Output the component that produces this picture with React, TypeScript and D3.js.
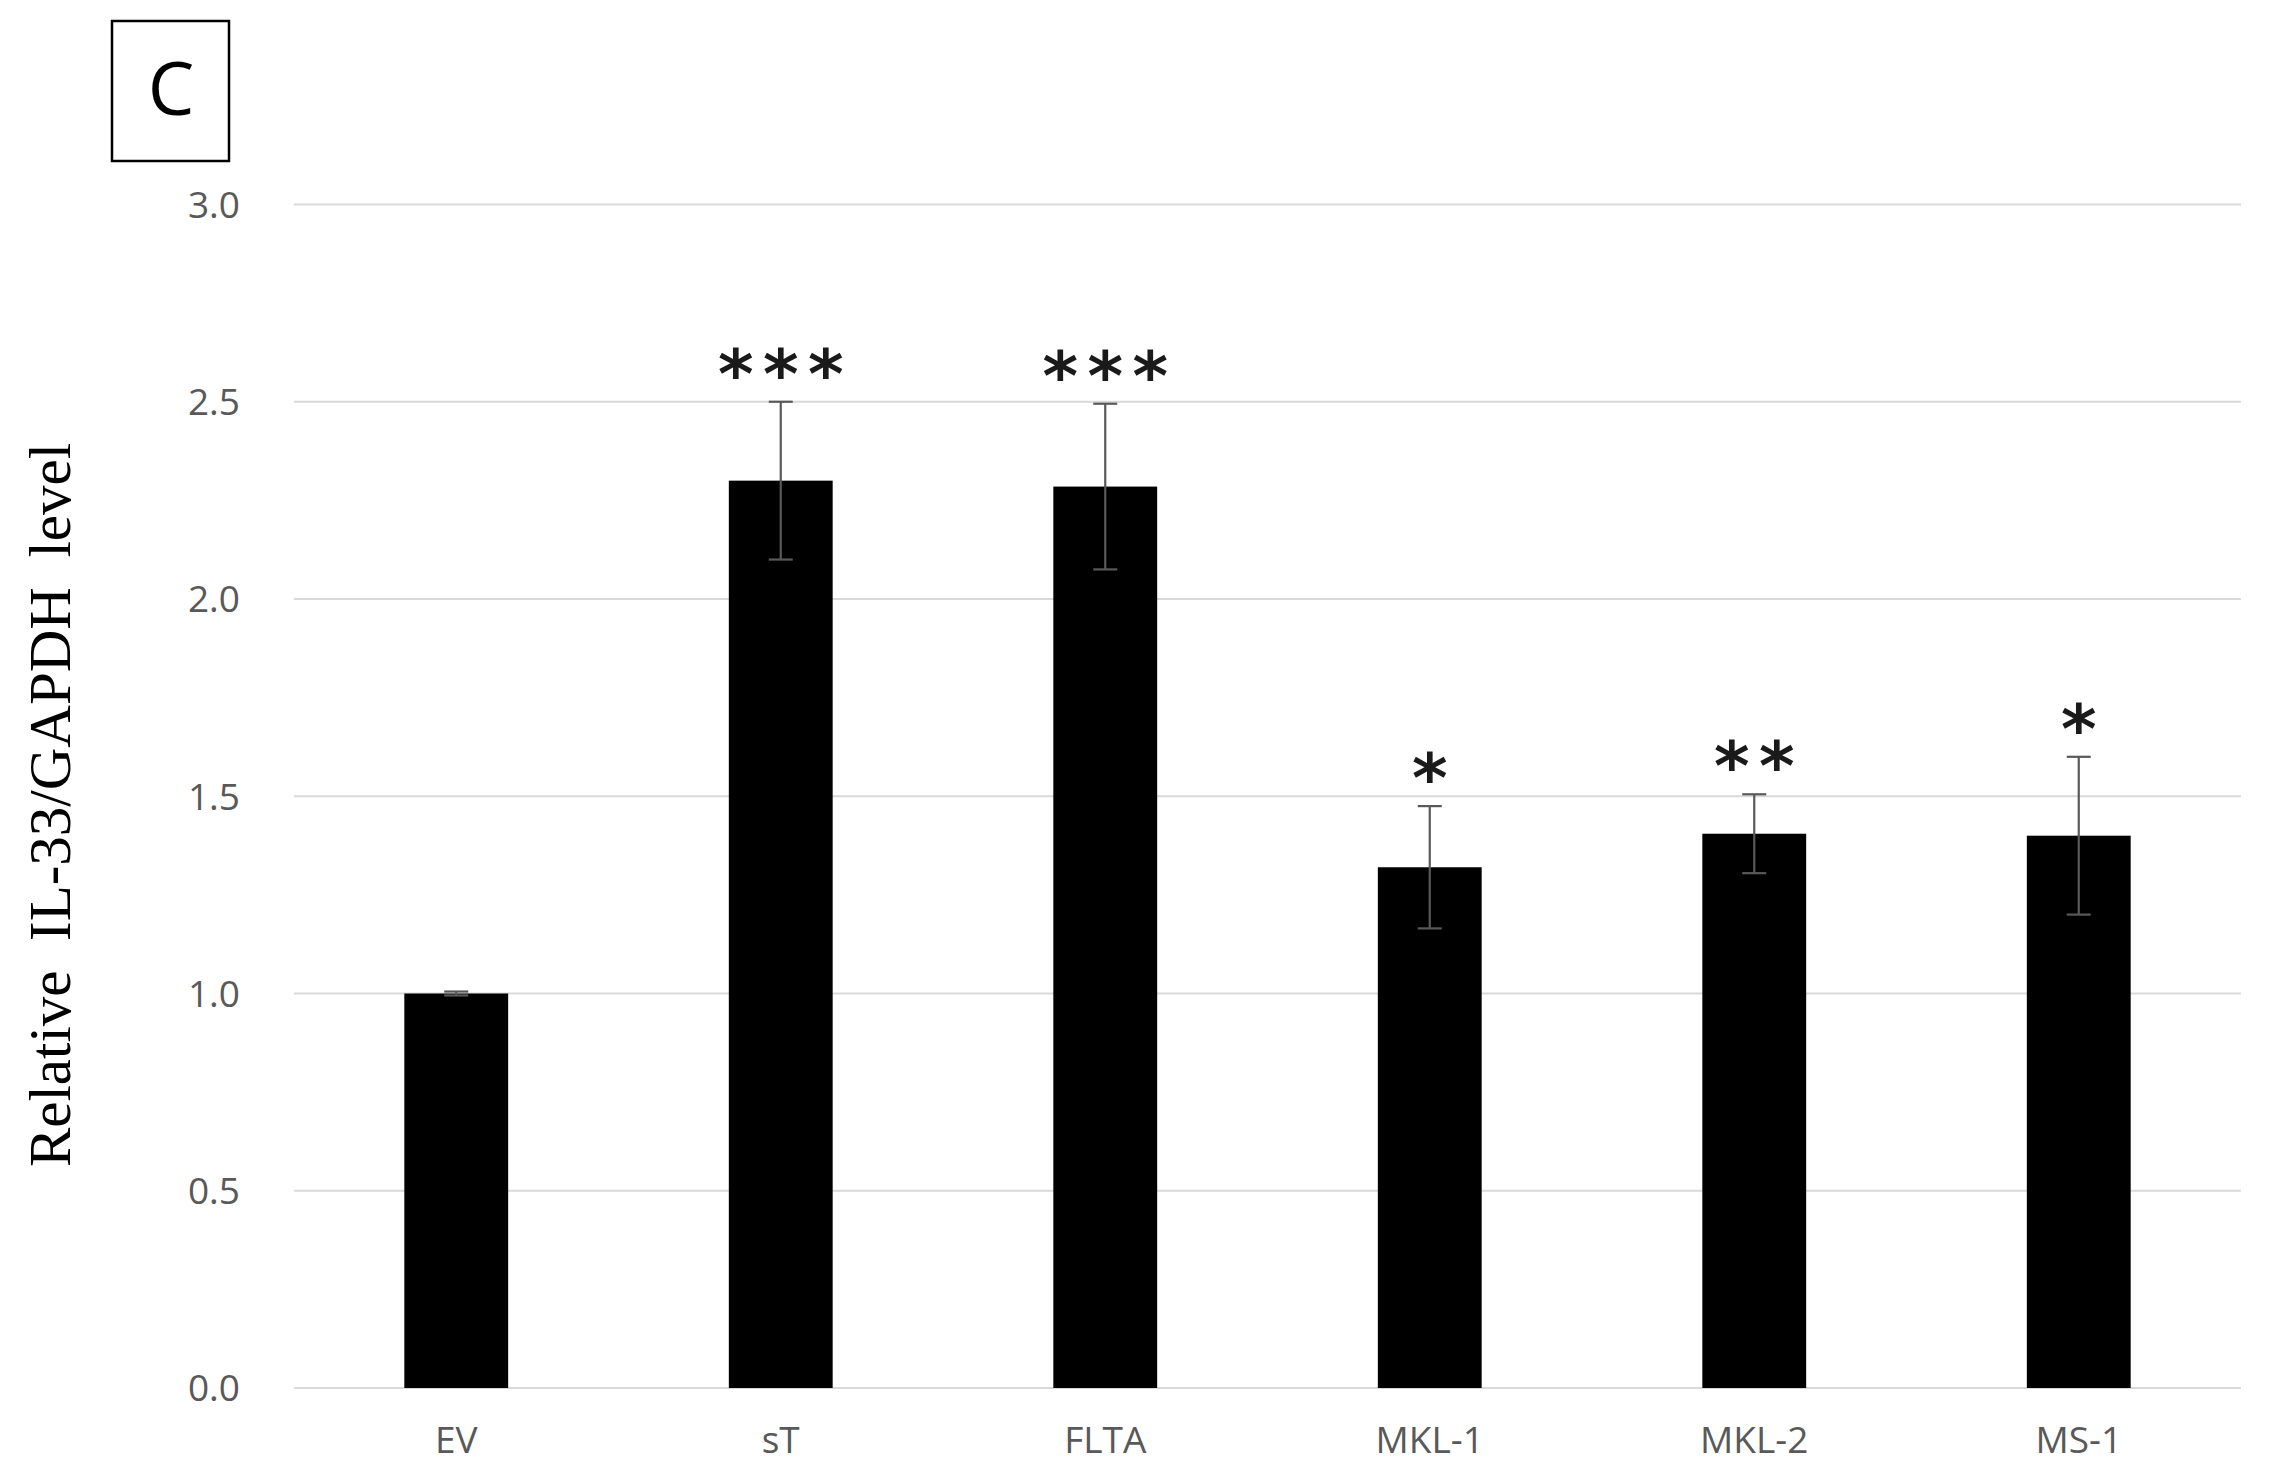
import React from "react";
import * as d3 from "d3";

const categories = ["EV", "sT", "FLTA", "MKL-1", "MKL-2", "MS-1"];
const values = [1.0, 2.30, 2.285, 1.32, 1.405, 1.40];
const errors = [0.005, 0.20, 0.21, 0.155, 0.10, 0.20];
const significance = ["", "***", "***", "*", "**", "*"];
const yTicks = [0, 0.5, 1.0, 1.5, 2.0, 2.5, 3.0];
const yTitle = "Relative  IL-33/GAPDH  level";
const panelLabel = "C";

const W = 2274;
const H = 1482;

export default function App() {
  const x = d3
    .scaleBand<string>()
    .domain(categories)
    .range([294, 2241])
    .paddingInner(0.68)
    .paddingOuter(0.34);
  const y = d3.scaleLinear().domain([0, 3]).range([1388, 204.5]);
  const fmt = d3.format(".1f");
  const bw = x.bandwidth();
  const capW = 24;
  const starFs = 68;
  const starGap = 45;

  return (
    <svg
      width={W}
      height={H}
      viewBox={`0 0 ${W} ${H}`}
      style={{ position: "absolute", left: 0, top: 0, background: "#fff" }}
    >
      <rect x={0} y={0} width={W} height={H} fill="#fff" />
      {/* panel label */}
      <rect x={112} y={21} width={117} height={140} fill="none" stroke="#000" strokeWidth={2.5} />
      <text
        x={171}
        y={115}
        textAnchor="middle"
        fontFamily="'Open Sans', 'Noto Sans', sans-serif"
        fontSize={74}
        fill="#000"
      >
        {panelLabel}
      </text>

      {/* gridlines */}
      {yTicks.map((t) => (
        <line
          key={"g" + t}
          x1={294}
          x2={2241}
          y1={y(t)}
          y2={y(t)}
          stroke="#d9d9d9"
          strokeWidth={2}
        />
      ))}
      {/* y tick labels */}
      {yTicks.map((t) => (
        <text
          key={"t" + t}
          x={240}
          y={y(t)}
          dy="0.36em"
          textAnchor="end"
          fontFamily="'Open Sans', 'Noto Sans', sans-serif"
          fontSize={37}
          fill="#595959"
        >
          {fmt(t)}
        </text>
      ))}

      {/* y title */}
      <text
        transform={`translate(70, 805) rotate(-90)`}
        textAnchor="middle"
        fontFamily="'Liberation Serif', 'Times New Roman', serif"
        fontSize={59}
        fill="#000"
        style={{ whiteSpace: "pre" }}
        xmlSpace="preserve"
      >
        {yTitle}
      </text>

      {/* bars */}
      {categories.map((c, i) => (
        <rect
          key={"b" + c}
          x={x(c)!}
          y={y(values[i])}
          width={bw}
          height={y(0) - y(values[i])}
          fill="#000"
        />
      ))}

      {/* error bars */}
      {categories.map((c, i) => {
        const cx = x(c)! + bw / 2;
        const top = y(values[i] + errors[i]);
        const bot = y(values[i] - errors[i]);
        return (
          <g key={"e" + c} stroke="#595959" strokeWidth={2.2}>
            <line x1={cx} x2={cx} y1={top} y2={bot} />
            <line x1={cx - capW / 2} x2={cx + capW / 2} y1={top} y2={top} />
            <line x1={cx - capW / 2} x2={cx + capW / 2} y1={bot} y2={bot} />
          </g>
        );
      })}

      {/* significance stars */}
      {categories.map((c, i) => {
        const s = significance[i];
        const cx = x(c)! + bw / 2;
        const top = y(values[i] + errors[i]);
        const cy = top - 38;
        return s.split("").map((ch, k) => (
          <text
            key={"s" + c + k}
            x={cx + (k - (s.length - 1) / 2) * starGap}
            y={cy + starFs * 0.5}
            textAnchor="middle"
            fontFamily="'DejaVu Sans', sans-serif"
            fontWeight="bold"
            fontSize={starFs}
            fill="#1a1a1a"
          >
            {ch}
          </text>
        ));
      })}

      {/* x labels */}
      {categories.map((c) => (
        <text
          key={"x" + c}
          x={x(c)! + bw / 2}
          y={1440}
          dy="0.36em"
          textAnchor="middle"
          fontFamily="'Open Sans', 'Noto Sans', sans-serif"
          fontSize={37}
          fill="#595959"
        >
          {c}
        </text>
      ))}
    </svg>
  );
}
